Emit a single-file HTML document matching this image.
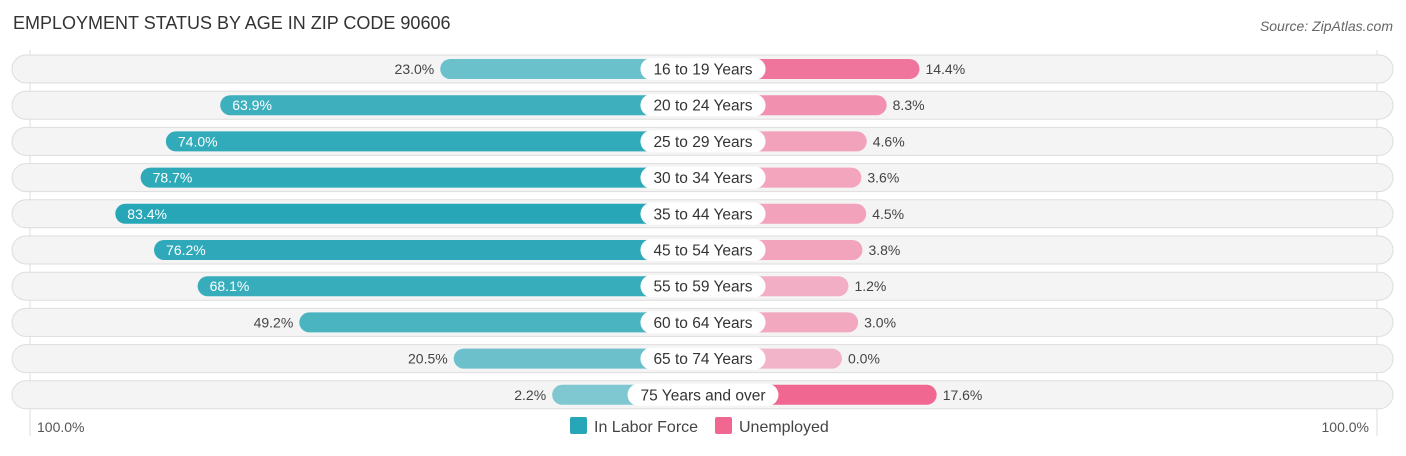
<!DOCTYPE html>
<html><head><meta charset="utf-8"><style>
body{margin:0;background:#fff;font-family:"Liberation Sans",sans-serif;}
svg text{font-family:"Liberation Sans",sans-serif;}
</style></head><body>
<svg id="c" width="1406" height="451" viewBox="0 0 1406 451">
<text x="13" y="29" font-size="18" fill="#333">EMPLOYMENT STATUS BY AGE IN ZIP CODE 90606</text>
<text x="1393" y="31" font-size="14" fill="#666" font-style="italic" text-anchor="end">Source: ZipAtlas.com</text>
<line x1="30" y1="50" x2="30" y2="436" stroke="#ddd"/>
<line x1="1377" y1="50" x2="1377" y2="436" stroke="#ddd"/>
<g id="rows"></g>
<text x="37" y="432" font-size="14" fill="#555">100.0%</text>
<text x="1369" y="432" font-size="14" fill="#555" text-anchor="end">100.0%</text>
<rect x="570" y="417" width="17" height="17" rx="2" fill="#26a6b6"/>
<text x="594" y="432" font-size="16" fill="#444">In Labor Force</text>
<rect x="715" y="417" width="17" height="17" rx="2" fill="#f06792"/>
<text x="739" y="432" font-size="16" fill="#444">Unemployed</text>
</svg>
<script>
const categories=["16 to 19 Years","20 to 24 Years","25 to 29 Years","30 to 34 Years","35 to 44 Years","45 to 54 Years","55 to 59 Years","60 to 64 Years","65 to 74 Years","75 Years and over"];
const laborForce=[23.0,63.9,74.0,78.7,83.4,76.2,68.1,49.2,20.5,2.2];
const unemployed=[14.4,8.3,4.6,3.6,4.5,3.8,1.2,3.0,0.0,17.6];
const NS="http://www.w3.org/2000/svg";
const cx=703, base=139, k=5.38;
function len(v){return base+v*k;}
function rowY(i){return 69+i*36.2;}
const g=document.getElementById('rows');
function mk(t,a){const e=document.createElementNS(NS,t);for(const p in a)e.setAttribute(p,a[p]);return e;}
const maxL=Math.max(...laborForce), maxU=Math.max(...unemployed);
categories.forEach((c,i)=>{
  const y=rowY(i);
  const bg=mk('rect',{x:12,y:y-14,width:1381,height:28,rx:14,fill:'#f4f4f4',stroke:'#ddd'});
  
  
  g.appendChild(bg);
  const lv=laborForce[i], lw=len(lv);
  const lb=mk('rect',{x:cx-lw,y:y-10,width:lw,height:20,rx:10,fill:'#26a6b6','fill-opacity':(0.55+0.45*lv/maxL).toFixed(2)});
  
  
  g.appendChild(lb);
  const uv=unemployed[i], uw=len(uv);
  const ub=mk('rect',{x:cx,y:y-10,width:uw,height:20,rx:10,fill:'#f06792','fill-opacity':(0.45+0.55*uv/maxU).toFixed(2)});
  
  
  g.appendChild(ub);
  const inside=lv>55;
  const lt=mk('text',{x:inside?cx-lw+12:cx-lw-6,y:y+5,'font-size':14,fill:inside?'#fff':'#444','text-anchor':inside?'start':'end'});
  lt.textContent=lv.toFixed(1)+'%';
  
  
  g.appendChild(lt);
  const ut=mk('text',{x:cx+uw+6,y:y+5,'font-size':14,fill:'#444'});
  ut.textContent=uv.toFixed(1)+'%';
  
  
  g.appendChild(ut);
  const ct=mk('text',{x:cx,y:y+5.5,'font-size':15.5,fill:'#333','text-anchor':'middle'});
  ct.textContent=c;
  g.appendChild(ct);
  const w=ct.getComputedTextLength()+26;
  const pill=mk('rect',{x:cx-w/2,y:y-11,width:w,height:22,rx:11,fill:'#fff'});
  
  
  g.insertBefore(pill,ct);
  
  
});
</script>
</body></html>
